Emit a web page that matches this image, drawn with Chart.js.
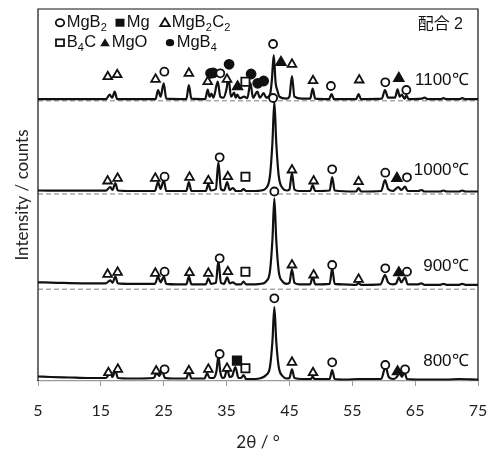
<!DOCTYPE html>
<html>
<head>
<meta charset="utf-8">
<script src="https://cdn.jsdelivr.net/npm/chart.js@4.4.0/dist/chart.umd.min.js"></script>
<style>
  html, body { margin: 0; padding: 0; background: #fff; }
  canvas { display: block; }
</style>
</head>
<body>
<canvas id="xrdChart" width="494" height="453"></canvas>
<script>
// x axis ticks (2θ)
const tickValues = [5, 15, 25, 35, 45, 55, 65, 75];

// sample order: bottom to top
const tempLabels = ['800℃', '900℃', '1000℃', '1100℃'];
const offsets = [0, 91.7, 187, 280.3];      // baseline of each pattern (dashed line)
const labelHeights = [19.3, 22.6, 24, 20.7]; // temp label height above its baseline

// patterns: [2θ, intensity above own baseline]
const trace800 = [[5,4.5],[7,4],[10,3.5],[13,3],[15.8,3],[16.5,8],[16.85,4],[17.3,11],[17.7,3],[20,2.5],[23.4,3],[23.9,8],[24.3,5],[24.7,11],[25.2,3],[26.5,2.5],[28.6,2.5],[29.0,9.3],[29.4,2.5],[31.5,2.5],[31.9,8],[32.3,3],[32.9,3],[33.4,10],[33.7,25],[34.0,9],[34.4,3],[34.7,4],[35.1,12],[35.5,4],[35.9,5],[36.4,14],[36.9,3],[37.3,3],[37.7,6],[38.1,2],[39.5,2],[40.5,3],[41.3,6],[41.9,14],[42.3,40],[42.6,74],[42.9,40],[43.3,14],[43.9,5],[44.6,2.5],[45.0,3],[45.4,11.7],[45.8,3],[47,2],[48.4,2],[48.7,4.3],[49.0,2],[51.4,2],[51.8,11],[52.2,2],[54,1.5],[56,2],[59.6,2],[60.3,14.3],[60.8,4],[61.5,2],[62.2,5],[62.5,9.3],[62.9,4],[63.3,9],[63.7,2],[66,1.5],[70,1.5],[72,2],[75,1.5]];
const trace900 = [[5,7],[8,6.5],[12,6],[15.8,6],[16.5,9],[16.85,6.5],[17.3,12.6],[17.7,6],[20,5.5],[23.6,5.5],[24.1,12.6],[24.5,7],[25.0,12.6],[25.4,5.5],[27,5],[28.6,5],[29.0,12.6],[29.4,5],[31.7,5],[32.1,11],[32.5,5.5],[33.3,6.5],[33.7,29],[34.1,6.5],[34.6,5.5],[35.1,12],[35.5,6],[36.0,7],[36.5,5],[37.3,5],[37.7,7.6],[38.1,5],[39.5,5],[40.5,5.5],[41.3,8],[41.9,18],[42.3,50],[42.6,91],[42.9,50],[43.3,18],[43.9,8],[44.6,5.5],[45.0,6.5],[45.4,20],[45.8,6.5],[46.5,5],[48.3,5],[48.7,12.6],[49.1,5],[51.4,5.5],[51.8,21],[52.2,5.5],[53.5,5],[55.6,4.5],[56.0,6.3],[56.4,4.5],[59.5,5],[60.2,14.3],[60.7,7],[61.4,5],[62.0,6],[62.4,12],[62.8,7],[63.4,12],[63.8,5],[65.5,5],[66,6],[66.5,4.5],[69,4.5],[69.5,5.5],[70,4.5],[72,4.5],[72.5,5.5],[73,4.5],[75,4.5]];
const trace1000 = [[5,3.5],[10,3.3],[15.8,3.3],[16.5,7],[16.85,4],[17.3,11],[17.7,3.5],[20,3],[23.6,3],[24.1,12],[24.5,5],[25.0,14],[25.4,3],[28.6,3],[29.0,12],[29.4,3],[31.7,3],[32.1,10],[32.5,3.5],[33.3,5],[33.7,32],[34.1,5],[34.6,3.5],[35.1,12],[35.5,4],[36.0,6],[36.5,3],[37.3,3],[37.7,5],[38.1,3],[39.5,3],[40.5,3.5],[41.3,6],[41.9,18],[42.3,52],[42.6,92.5],[42.9,52],[43.3,18],[43.9,6],[44.6,3.5],[45.0,4.5],[45.4,21],[45.8,4.5],[46.5,3],[48.3,3],[48.7,9],[49.1,3],[51.4,3.5],[51.8,17],[52.2,3.5],[55.6,2.5],[56.0,6],[56.4,2.5],[59.6,3],[60.2,14],[60.7,5],[61.5,3],[61.9,5],[62.3,7],[62.8,4],[63.4,7.3],[63.8,3],[65.5,3],[66,4],[66.5,2.5],[69,2.5],[69.5,3.5],[70,2.5],[72,2.5],[72.5,3.5],[73,2.5],[75,2.5]];
const trace1100 = [[5,1.5],[10,1.5],[15.8,1.5],[16.4,6],[16.8,3],[17.2,9],[17.6,1.5],[20,1.5],[23.7,1.5],[24.1,10.7],[24.5,4],[25.0,17.4],[25.4,2],[28.6,1.5],[29.0,15.7],[29.4,2],[31.6,1.5],[32.0,11],[32.3,4],[32.6,7],[32.9,3],[33.6,19],[34.0,4],[34.5,3],[35.0,12],[35.3,23.7],[35.7,4],[36.2,8],[36.45,3],[36.7,6],[37.1,2.5],[37.8,4],[38.3,2.5],[38.8,17.7],[39.2,3],[39.9,9],[40.3,3],[40.9,7.5],[41.3,3],[41.9,6],[42.2,20],[42.5,45.7],[42.8,18],[43.1,10],[43.4,4],[44.5,2],[45.0,4],[45.4,24.7],[45.8,4],[47,2],[48.3,2],[48.7,12],[49.1,2],[51.3,1.5],[51.7,6.7],[52.1,1.5],[55.6,1.5],[56.0,6.7],[56.4,1.5],[59.7,2],[60.2,10.7],[60.7,3],[61.8,3],[62.2,11.4],[62.55,4],[62.9,6],[63.3,2],[63.6,5],[64,1.5],[66,2],[66.5,3],[67,1.5],[69,1.5],[69.5,2.5],[70,1.5],[72,1.5],[72.5,2.5],[73,1.5],[75,1.5]];
const traces = [trace800, trace900, trace1000, trace1100];

// phase markers: [pattern index, 2θ, height above that pattern's baseline]
const markMgB2 = [
  [3,25.1,29],[3,34.0,27.4],[3,42.4,56.7],[3,51.6,14.7],[3,60.25,18.4],[3,63.6,10.7],
  [2,25.14,17.3],[2,33.9,36.7],[2,42.4,96],[2,51.8,24.7],[2,60.25,21.3],[2,63.7,16.7],
  [1,25.14,17.6],[1,33.9,31],[1,42.6,97.8],[1,51.8,24.3],[1,60.25,21],[1,63.7,17.6],
  [0,25.14,11.7],[0,33.9,27],[0,42.6,82.7],[0,51.8,18.7],[0,60.25,16],[0,63.4,11.7]
];
const markMg = [[0,36.66,20.3]];
const markMgB2C2 = [
  [3,16.1,24],[3,17.6,26],[3,23.7,21.4],[3,29.0,27.4],[3,32.0,19],[3,35.07,21.4],[3,45.4,36.4],[3,48.75,20],[3,56.1,20.7],
  [2,16.07,13],[2,17.66,15.7],[2,23.66,15.7],[2,29.1,16.7],[2,32.1,13.3],[2,35.2,17.3],[2,45.4,24],[2,48.85,13],[2,56.0,12.3],
  [1,16.07,15],[1,17.66,17],[1,23.66,16],[1,29.1,16.6],[1,32.1,16],[1,35.2,17.6],[1,45.4,24.3],[1,48.85,14.3],[1,56.0,10],
  [0,16.2,8.3],[0,17.7,11.7],[0,23.8,10],[0,29.0,10.3],[0,32.1,11.7],[0,35.07,12.7],[0,45.4,18.7],[0,48.75,8.3]
];
const markB4C = [[3,38.0,19],[2,38.0,17.3],[1,38.0,17.6],[0,38.0,12.7]];
const markMgO = [[3,36.75,14],[3,43.65,38.4],[3,62.4,22.4],[2,62.1,15.7],[1,62.4,16.6],[0,62.2,9.3]];
const markMgB4 = [[3,32.45,27.4],[3,32.85,27.8],[3,35.4,36.4],[3,38.9,26.7],[3,39.95,17.4],[3,40.9,19.7]];

const FONT = 'Lato, "Open Sans", sans-serif';
const LEGEND_FONT = '"Liberation Sans", Arial, sans-serif';

function toPoints(list) {
    return list.map(m => ({ x: m[1], y: m[2] + offsets[m[0]] }));
}

function markerSet(label, list, style, radius, filled) {
    return {
        type: 'scatter',
        label: label,
        data: toPoints(list),
        pointStyle: style,
        pointRadius: radius,
        pointBorderWidth: 1.8,
        pointBorderColor: '#111',
        pointBackgroundColor: filled ? '#111' : '#fff',
        order: 0
    };
}

const datasets = [];

// dashed baselines for the upper three patterns
for (let i = 1; i < offsets.length; i++) {
    datasets.push({
        type: 'line',
        label: 'base ' + tempLabels[i],
        data: [{ x: 5, y: offsets[i] }, { x: 75, y: offsets[i] }],
        borderColor: '#a8a8a8',
        borderWidth: 1.5,
        borderDash: [5, 3],
        pointRadius: 0,
        order: 3
    });
}

for (let i = 0; i < traces.length; i++) {
    datasets.push({
        type: 'line',
        label: tempLabels[i],
        data: traces[i].map(p => ({ x: p[0], y: p[1] + offsets[i] })),
        borderColor: '#111',
        borderWidth: 2.2,
        pointRadius: 0,
        cubicInterpolationMode: 'monotone',
        order: 2
    });
}

datasets.push(markerSet('MgB2', markMgB2, 'circle', 4, false));
datasets.push(markerSet('Mg', markMg, 'rect', 6, true));
datasets.push(markerSet('MgB2C2', markMgB2C2, 'triangle', 5, false));
datasets.push(markerSet('B4C', markB4C, 'rect', 5.8, false));
datasets.push(markerSet('MgO', markMgO, 'triangle', 5.5, true));
datasets.push(markerSet('MgB4', markMgB4, 'circle', 4.5, true));

// small legend glyphs
function drawGlyph(ctx, kind, x, y) {
    ctx.save();
    ctx.lineWidth = 1.8;
    ctx.strokeStyle = '#111';
    ctx.fillStyle = '#111';
    if (kind === 'oCircle' || kind === 'fCircle') {
        ctx.beginPath();
        ctx.ellipse(x, y, 4.2, 3.6, 0, 0, Math.PI * 2);
        if (kind === 'fCircle') ctx.fill(); else ctx.stroke();
    } else if (kind === 'oSquare' || kind === 'fSquare') {
        if (kind === 'fSquare') ctx.fillRect(x - 4.5, y - 4, 9, 8);
        else ctx.strokeRect(x - 4, y - 3.3, 8, 6.6);
    } else {
        ctx.beginPath();
        ctx.moveTo(x, y - 4.5);
        ctx.lineTo(x + 4.8, y + 3.5);
        ctx.lineTo(x - 4.8, y + 3.5);
        ctx.closePath();
        if (kind === 'fTri') ctx.fill(); else ctx.stroke();
    }
    ctx.restore();
}

// text with subscripts: parts = [[text, isSub], ...]
function drawRich(ctx, parts, x, y) {
    let cx = x;
    parts.forEach(p => {
        ctx.font = p[1] ? '11px ' + LEGEND_FONT : '16.5px ' + LEGEND_FONT;
        ctx.fillText(p[0], cx, p[1] ? y + 5 : y);
        cx += ctx.measureText(p[0]).width + (p[1] ? 0.5 : 0);
    });
}

const legendItems = [
    { kind: 'oCircle', x: 60, y: 22.7, parts: [['MgB', false], ['2', true]] },
    { kind: 'fSquare', x: 120, y: 22.7, parts: [['Mg', false]] },
    { kind: 'oTri', x: 165, y: 22.7, parts: [['MgB', false], ['2', true], ['C', false], ['2', true]] },
    { kind: 'oSquare', x: 60, y: 42.7, parts: [['B', false], ['4', true], ['C', false]] },
    { kind: 'fTri', x: 105, y: 42.7, parts: [['MgO', false]] },
    { kind: 'fCircle', x: 170, y: 42.7, parts: [['MgB', false], ['4', true]] }
];

const annotations = {
    id: 'annotations',
    afterDraw(chart) {
        const ctx = chart.ctx;
        const area = chart.chartArea;
        const xs = chart.scales.x;
        const ys = chart.scales.y;

        // frame: left, top and right in black
        ctx.save();
        ctx.strokeStyle = '#111';
        ctx.lineWidth = 1.2;
        ctx.beginPath();
        ctx.moveTo(area.left, area.bottom);
        ctx.lineTo(area.left, area.top);
        ctx.lineTo(area.right, area.top);
        ctx.lineTo(area.right, area.bottom);
        ctx.stroke();

        // legend
        ctx.fillStyle = '#111';
        ctx.textBaseline = 'middle';
        ctx.textAlign = 'left';
        legendItems.forEach(it => {
            drawGlyph(ctx, it.kind, it.x, it.y);
            drawRich(ctx, it.parts, it.x + 6.7, it.y);
        });

        // sample label top right
        ctx.font = '16px ' + LEGEND_FONT + ', "Noto Sans CJK JP"';
        ctx.textAlign = 'right';
        ctx.fillText('配合 2', area.right - 15, 25);

        // temperature labels
        ctx.font = '17px ' + LEGEND_FONT;
        for (let i = 0; i < tempLabels.length; i++) {
            ctx.fillText(tempLabels[i], xs.getPixelForValue(73.5), ys.getPixelForValue(offsets[i] + labelHeights[i]));
        }
        ctx.restore();
    }
};

new Chart(document.getElementById('xrdChart'), {
    data: { datasets: datasets },
    options: {
        responsive: false,
        animation: false,
        devicePixelRatio: 1,
        layout: { padding: { top: 9, right: 16, left: 8, bottom: 0 } },
        plugins: {
            legend: { display: false },
            tooltip: { enabled: false }
        },
        scales: {
            x: {
                type: 'linear',
                min: 5,
                max: 75,
                afterBuildTicks: function(scale) {
                    scale.ticks = tickValues.map(v => ({ value: v }));
                },
                afterFit: function(scale) {
                    scale.height = 72;
                    scale.paddingLeft = 0;
                    scale.paddingRight = 0;
                },
                ticks: {
                    font: { family: FONT, size: 16 },
                    color: '#222',
                    padding: 15,
                    maxRotation: 0
                },
                grid: {
                    drawOnChartArea: false,
                    drawTicks: true,
                    tickLength: 5,
                    color: '#9a9a9a'
                },
                border: { color: '#9a9a9a', width: 1.2 },
                title: {
                    display: true,
                    text: '2θ / °',
                    font: { family: FONT, size: 17 },
                    color: '#222',
                    padding: { top: 0, bottom: 0 }
                }
            },
            y: {
                min: 0,
                max: 372,
                afterFit: function(scale) { scale.width = 30; },
                ticks: { display: false },
                grid: { display: false },
                border: { display: false },
                title: {
                    display: true,
                    text: 'Intensity / counts',
                    font: { family: FONT, size: 17 },
                    color: '#222',
                    padding: { top: 4, bottom: 4 }
                }
            }
        }
    },
    plugins: [annotations]
});
</script>
</body>
</html>
